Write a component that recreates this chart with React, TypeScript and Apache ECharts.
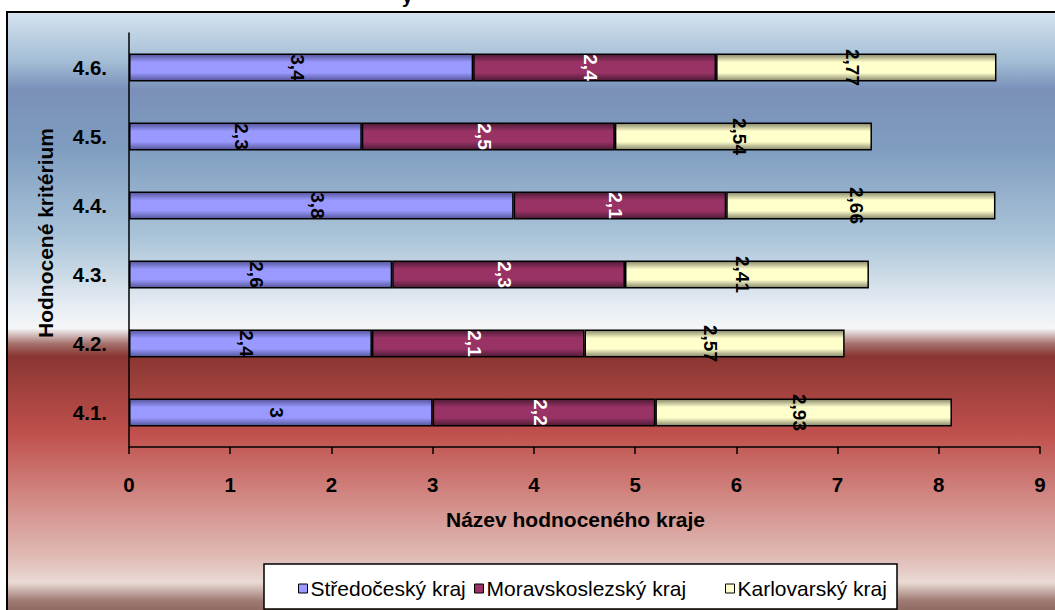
import React, { useEffect, useRef } from "react";
import * as echarts from "echarts";

const categories = ["4.1.", "4.2.", "4.3.", "4.4.", "4.5.", "4.6."];
const stredocesky = [3, 2.4, 2.6, 3.8, 2.3, 3.4];
const moravskoslezsky = [2.2, 2.1, 2.3, 2.1, 2.5, 2.4];
const karlovarsky = [2.93, 2.57, 2.41, 2.66, 2.54, 2.77];
const seriesNames = ["Středočeský kraj", "Moravskoslezský kraj", "Karlovarský kraj"];
const seriesColors = ["#9999ff", "#993366", "#ffffcc"];
const xAxisMin = 0;
const xAxisMax = 9;
const xAxisStep = 1;
const xAxisTitle = "Název hodnoceného kraje";
const yAxisTitle = "Hodnocené kritérium";

const FONT = "Arial, 'Liberation Sans', sans-serif";

const fmt = (v: number) => String(v).replace(".", ",");

const shade = (edge: string, mid: string) =>
  new echarts.graphic.LinearGradient(0, 0, 0, 1, [
    { offset: 0, color: edge },
    { offset: 0.3, color: mid },
    { offset: 0.7, color: mid },
    { offset: 1, color: edge },
  ]);

export default function App() {
  const ref = useRef<HTMLDivElement>(null);
  useEffect(() => {
    if (!ref.current) return;
    const chart = echarts.init(ref.current, null, { renderer: "svg" });
    const mk = (name: string, data: number[], edge: string, mid: string, labelColor: string) => ({
      name,
      type: "bar",
      stack: "total",
      data,
      barWidth: 28,
      itemStyle: { color: shade(edge, mid), borderColor: "#000", borderWidth: 1.5 },
      label: {
        show: true,
        position: "inside",
        rotate: -90,
        formatter: (p: any) => fmt(p.value),
        color: labelColor,
        fontSize: 19,
        fontWeight: "bold",
        fontFamily: FONT,
        offset: [0, 4],
      },
    });
    const legendLefts = [298, 474, 725];
    chart.setOption({
      animation: false,
      graphic: [
        {
          type: "rect",
          z: -100,
          shape: { x: 7, y: 12, width: 1100, height: 620 },
          style: {
            fill: new echarts.graphic.LinearGradient(0, 0, 0, 1, [
              { offset: 0, color: "#d5e3ef" },
              { offset: 0.08, color: "#a3bdd5" },
              { offset: 0.125, color: "#7a90b9" },
              { offset: 0.22, color: "#7f9dc0" },
              { offset: 0.36, color: "#a9c3d8" },
              { offset: 0.47, color: "#e4ebf2" },
              { offset: 0.51, color: "#f5f7f9" },
              { offset: 0.535, color: "#a6716c" },
              { offset: 0.555, color: "#893632" },
              { offset: 0.68, color: "#c0504d" },
              { offset: 0.79, color: "#d38c87" },
              { offset: 0.88, color: "#e0bbb6" },
              { offset: 0.92, color: "#eadad4" },
              { offset: 0.95, color: "#9e7a72" },
              { offset: 1, color: "#6a4640" },
            ]),
            stroke: "#000",
            lineWidth: 2,
          },
        },
        {
          type: "rect",
          z: 50,
          shape: { x: 264, y: 564, width: 633, height: 45 },
          style: { fill: "#fff", stroke: "#000", lineWidth: 1.5 },
        },
        {
          type: "text",
          z: -50,
          left: 402,
          top: -13,
          style: { text: "y", font: `bold 19px ${FONT}`, fill: "#000" },
        },
      ],
      grid: { left: 129, right: 15, top: 33, bottom: 163, containLabel: false },
      xAxis: {
        type: "value",
        min: xAxisMin,
        max: xAxisMax,
        interval: xAxisStep,
        splitLine: { show: false },
        axisLine: { show: true, lineStyle: { color: "#000", width: 1.5 } },
        axisTick: { show: true, length: 7, lineStyle: { color: "#000", width: 1.5 } },
        axisLabel: { color: "#000", fontSize: 20.5, fontWeight: "bold", fontFamily: FONT, margin: 27 },
        name: xAxisTitle,
        nameLocation: "middle",
        nameGap: 62,
        nameTextStyle: { color: "#000", fontSize: 21, fontWeight: "bold", fontFamily: FONT, padding: [0, 18, 0, 0] },
      },
      yAxis: {
        type: "category",
        data: categories,
        axisLine: { show: true, lineStyle: { color: "#000", width: 1.5 } },
        axisTick: { show: false },
        axisLabel: { color: "#000", fontSize: 20.5, fontWeight: "bold", fontFamily: FONT, margin: 22 },
        name: yAxisTitle,
        nameLocation: "middle",
        nameGap: 73,
        nameRotate: 90,
        nameTextStyle: { color: "#000", fontSize: 21, fontWeight: "bold", fontFamily: FONT, padding: [0, 0, 0, 14] },
      },
      legend: seriesNames.map((n, i) => ({
        left: legendLefts[i],
        top: 578,
        z: 60,
        padding: 0,
        itemWidth: 9,
        itemHeight: 9,
        icon: "rect",
        textStyle: { color: "#000", fontSize: 21, fontFamily: FONT, padding: [0, 0, 0, -2] },
        data: [{ name: n, itemStyle: { color: seriesColors[i], borderColor: "#000", borderWidth: 1 } }],
      })),
      series: [
        mk(seriesNames[0], stredocesky, "#55559a", seriesColors[0], "#000"),
        mk(seriesNames[1], moravskoslezsky, "#4e1a36", seriesColors[1], "#fff"),
        mk(seriesNames[2], karlovarsky, "#87876a", seriesColors[2], "#000"),
      ],
    });
    return () => chart.dispose();
  }, []);
  return (
    <div
      ref={ref}
      style={{ position: "absolute", left: 0, top: 0, width: 1055, height: 610 }}
    />
  );
}
